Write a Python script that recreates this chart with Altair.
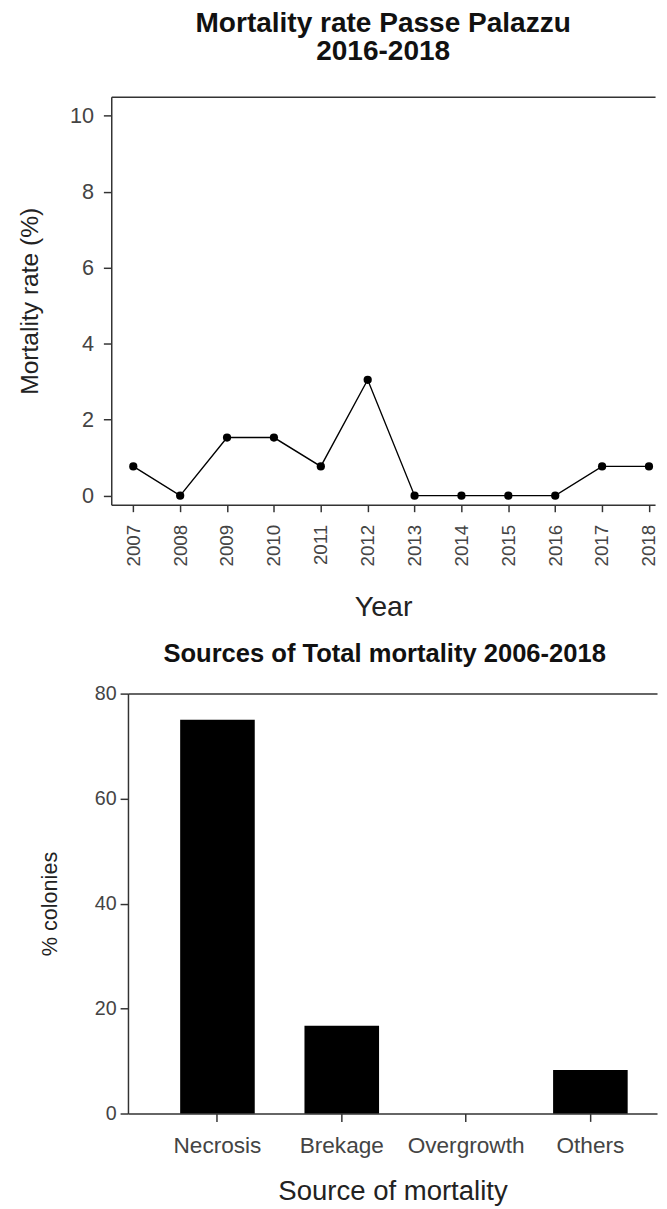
import altair as alt
import pandas as pd

# ---- data ----
years = [2007, 2008, 2009, 2010, 2011, 2012, 2013, 2014, 2015, 2016, 2017, 2018]
mortality = [0.77, 0.0, 1.53, 1.53, 0.77, 3.05, 0.0, 0.0, 0.0, 0.0, 0.77, 0.77]
y_ticks_top = [0, 2, 4, 6, 8, 10]

sources = ["Necrosis", "Brekage", "Overgrowth", "Others"]
colonies = [75.0, 16.7, 0.0, 8.3]
y_ticks_bottom = [0, 20, 40, 60, 80]

FONT = "Liberation Sans"
AXIS_COL = "#333333"
LABEL_COL = "#444444"

df1 = pd.DataFrame({"year": years, "rate": mortality})
df2 = pd.DataFrame({"source": sources, "pct": colonies})

common_axis = dict(
    domainColor=AXIS_COL, domainWidth=1.5, tickColor=AXIS_COL, tickWidth=1.5,
    grid=False, labelFont=FONT, titleFont=FONT, labelColor=LABEL_COL,
    titleColor="#222222", titleFontWeight="normal",
)
top_axis = dict(orient="top", labels=False, ticks=False, title=None, domain=True,
                domainColor=AXIS_COL, domainWidth=1.5, grid=False)

# ---- top chart ----
xscale = alt.Scale(domain=[2006.53, 2018.13], nice=False, zero=False)
yscale = alt.Scale(domain=[-0.24, 10.5], nice=False, zero=False)

x_bottom = alt.X("year:Q", scale=xscale, axis=alt.Axis(
    orient="bottom", values=years, format="d", labelAngle=270, labelFontSize=19,
    tickSize=7, labelPadding=13, title="Year", titleFontSize=29, titlePadding=27,
    **common_axis))
y_left = alt.Y("rate:Q", scale=yscale, axis=alt.Axis(
    values=y_ticks_top, title="Mortality rate (%)", labelFontSize=22, tickSize=8,
    labelPadding=10, titleFontSize=25, titlePadding=28, **common_axis))

line = alt.Chart(df1).mark_line(color="black", strokeWidth=1.4).encode(x=x_bottom, y=y_left)
pts = alt.Chart(df1).mark_point(filled=True, color="black", size=70, opacity=1).encode(
    x=alt.X("year:Q", scale=xscale, axis=alt.Axis(**top_axis)), y=y_left)

top = alt.layer(line, pts).resolve_axis(x="independent").properties(
    width=553, height=415,
    title=alt.Title(["Mortality rate Passe Palazzu", "2016-2018"], font=FONT,
                    fontSize=28.5, fontWeight="bold", color="#111111", lineHeight=28.5,
                    offset=32, anchor="middle", frame="group"),
)

# ---- bottom chart ----
bscale = alt.Scale(paddingInner=0.4, paddingOuter=0.328, align=0.64)
xb = alt.X("source:N", sort=sources, scale=bscale, axis=alt.Axis(
    orient="bottom", labelAngle=0, labelFontSize=23, tickSize=8, labelPadding=14,
    title="Source of mortality", titleFontSize=28, titlePadding=20, **common_axis))
yb = alt.Y("pct:Q", scale=alt.Scale(domain=[0, 80], nice=False), axis=alt.Axis(
    values=y_ticks_bottom, title="% colonies", labelFontSize=20, tickSize=8,
    labelPadding=4, titleFontSize=22, titlePadding=33, **common_axis))

bars = alt.Chart(df2).mark_bar(color="black").encode(x=xb, y=yb)
bframe = alt.Chart(df2).mark_point(opacity=0).encode(
    x=alt.X("source:N", sort=sources, scale=bscale, axis=alt.Axis(**top_axis)), y=yb)

bottom = alt.layer(bars, bframe).resolve_axis(x="independent").properties(
    width=538, height=427,
    title=alt.Title("Sources of Total mortality 2006-2018", font=FONT, fontSize=26,
                    fontWeight="bold", color="#111111", offset=17, anchor="middle",
                    frame="group", dx=-8),
)

def spacer(w):
    return alt.Chart(df2).mark_point(opacity=0).encode(
        x=alt.value(0), y=alt.value(0)).properties(width=w, height=20)

chart = alt.vconcat(
    alt.hconcat(spacer(1), top, spacing=0),
    alt.hconcat(spacer(25), bottom, spacing=0),
    spacing=20,
).properties(
    padding={"left": 3, "top": -9, "right": 0, "bottom": 0}
).configure_view(stroke=None)

chart.save("out.html", embed_options={"renderer": "svg", "actions": False})
